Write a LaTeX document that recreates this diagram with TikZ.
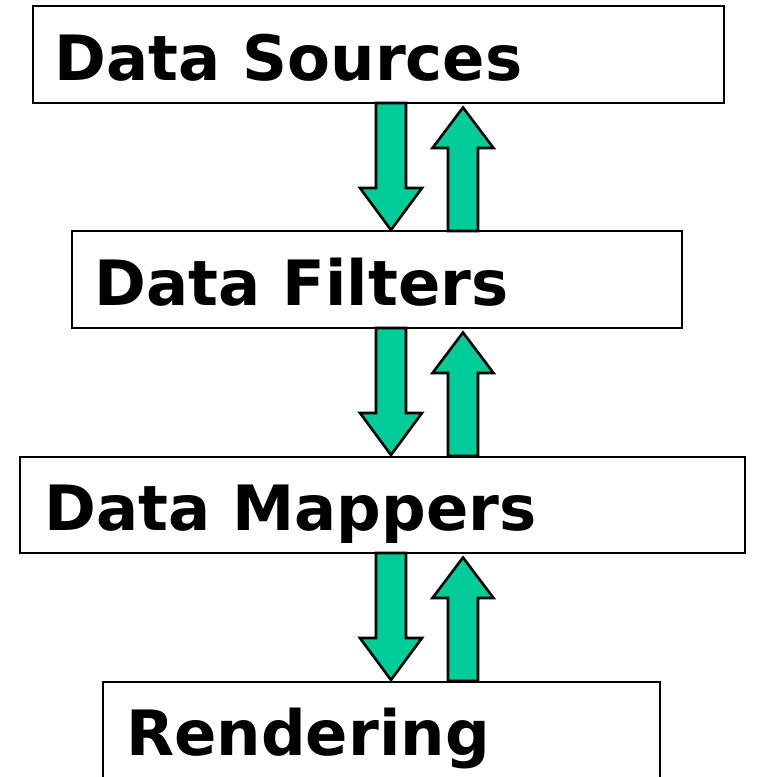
\documentclass[tikz,border=0pt]{standalone}
\usepackage{fontspec}
\setmainfont{DejaVu Sans}
\usetikzlibrary{calc}
\definecolor{arrowgreen}{RGB}{0,204,153}
\begin{document}
\begin{tikzpicture}[x=1pt,y=-1pt,
  box/.style={draw=black, line width=2.4pt, fill=white, anchor=north west, inner sep=0pt, outer sep=0pt},
  lbl/.style={anchor=base west, inner sep=0pt, font=\fontsize{62.5}{70}\selectfont\bfseries},
  blockarrow/.style={draw=black, line width=2.6pt, fill=arrowgreen, line join=miter},
  dnarrow/.pic={\draw[blockarrow] (-15,0) -- (15,0) -- (15,85) -- (31,85) -- (0,127) -- (-31,85) -- (-15,85) -- cycle;},
  uparrow/.pic={\draw[blockarrow] (-15,128) -- (15,128) -- (15,45) -- (30.5,45) -- (0,4.5) -- (-30.5,45) -- (-15,45) -- cycle;}]
\useasboundingbox (0,0) rectangle (756,777);
\clip (0,0) rectangle (756,777);
\coordinate (cxd) at (391,0);
\coordinate (cxu) at (463,0);
% boxes
\node[box, minimum width=691pt, minimum height=97pt] (src) at (33,6) {};
\node[box, minimum width=610pt, minimum height=97pt] (flt) at (72,231) {};
\node[box, minimum width=725pt, minimum height=96pt] (map) at (20,457) {};
\node[box, minimum width=557pt, minimum height=120pt] (ren) at (103,682) {};
% labels
\node[lbl] (srct) at ($(src.north west)+(21.5,74.7)$) {Data Sources};
\node[lbl] (fltt) at ($(flt.north west)+(22.5,74)$) {Data Filters};
\node[lbl] (mapt) at ($(map.north west)+(24.5,73)$) {Data Mappers};
\node[lbl] (rent) at ($(ren.north west)+(23,73)$) {Rendering};
% arrows
\pic at (src.south -| cxd) {dnarrow};
\pic at (src.south -| cxu) {uparrow};
\pic at (flt.south -| cxd) {dnarrow};
\pic at (flt.south -| cxu) {uparrow};
\pic at (map.south -| cxd) {dnarrow};
\pic at (map.south -| cxu) {uparrow};
\end{tikzpicture}
\end{document}
